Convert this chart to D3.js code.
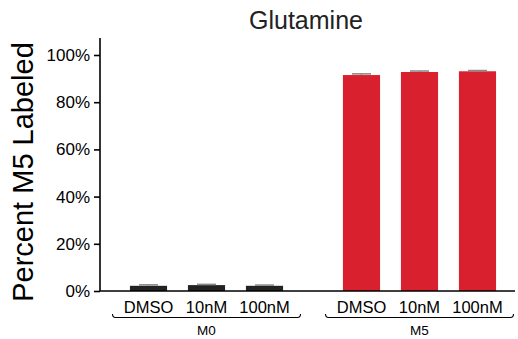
<!DOCTYPE html>
<html>
<head>
<meta charset="utf-8">
<script src="https://cdn.jsdelivr.net/npm/d3@7"></script>
<style>
  body { margin: 0; background: #fff; }
  svg { display: block; font-family: "Liberation Sans", Arial, sans-serif; }
</style>
</head>
<body>
<svg id="chart" width="518" height="339"></svg>
<script>
// percent of glutamine pool that is M5 labeled, by isotopologue group and treatment
let groups = ["M0", "M5"];
let treatments = ["DMSO", "10nM", "100nM"];
let m0Values = [2.2, 2.5, 2.2];
let m5Values = [91.5, 92.8, 93.1];
let m0Errors = [0.4, 0.3, 0.3];
let m5Errors = [0.5, 0.4, 0.3];
let yTicks = [0, 20, 40, 60, 80, 100];

let colours = {M0: "#222222", M5: "#d9202e"};

let rows = [];
groups.forEach(function(g) {
  let vals = g === "M0" ? m0Values : m5Values;
  let errs = g === "M0" ? m0Errors : m5Errors;
  treatments.forEach(function(t, i) {
    rows.push({group: g, treatment: t, value: vals[i], err: errs[i]});
  });
});

let svg = d3.select("#chart");

let y = d3.scaleLinear().domain([0, 107.2]).range([291, 38]);

let x0 = d3.scaleBand().domain(groups).range([119.5, 506.5])
  .paddingInner(0.183).paddingOuter(0);
let x1 = d3.scaleBand().domain(treatments).range([0, x0.bandwidth()])
  .paddingInner(0.36).paddingOuter(0.18);

// title
svg.append("text")
  .attr("x", 306).attr("y", 29)
  .attr("text-anchor", "middle")
  .style("font-size", "25px")
  .attr("fill", "#222")
  .text("Glutamine");

// y axis label
svg.append("text")
  .attr("transform", "translate(33,172) rotate(-90)")
  .attr("text-anchor", "middle")
  .style("font-size", "29px")
  .text("Percent M5 Labeled");

// y axis
let yAxis = svg.append("g")
  .attr("transform", "translate(100,0)")
  .call(d3.axisLeft(y).tickValues(yTicks).tickSize(6).tickPadding(4)
    .tickFormat(function(d) { return d + "%"; }));
yAxis.select(".domain").attr("d", "M0," + y.range()[1] + "V" + y(0))
  .attr("stroke-width", 1.6);
yAxis.selectAll(".tick line").attr("stroke-width", 1.6);
yAxis.selectAll("text").style("font-size", "17px").attr("fill", "#000");

// bars
let bars = svg.append("g").selectAll("g.bar")
  .data(rows)
  .enter().append("g")
    .attr("class", "bar");

bars.append("rect")
  .attr("x", function(d) { return x0(d.group) + x1(d.treatment); })
  .attr("y", function(d) { return y(d.value); })
  .attr("width", x1.bandwidth())
  .attr("height", function(d) { return y(0) - y(d.value); })
  .attr("fill", function(d) { return colours[d.group]; });

// error bars (only the upper half shows above the bar)
bars.append("line")
  .attr("x1", function(d) { return x0(d.group) + x1(d.treatment) + x1.bandwidth() / 2; })
  .attr("x2", function(d) { return x0(d.group) + x1(d.treatment) + x1.bandwidth() / 2; })
  .attr("y1", function(d) { return y(d.value); })
  .attr("y2", function(d) { return y(d.value + d.err); })
  .attr("stroke", "#8a8a8a").attr("stroke-width", 1.2);

bars.append("line")
  .attr("x1", function(d) { return x0(d.group) + x1(d.treatment) + x1.bandwidth() / 2 - 9.5; })
  .attr("x2", function(d) { return x0(d.group) + x1(d.treatment) + x1.bandwidth() / 2 + 9.5; })
  .attr("y1", function(d) { return y(d.value + d.err); })
  .attr("y2", function(d) { return y(d.value + d.err); })
  .attr("stroke", "#8a8a8a").attr("stroke-width", 1.6);

// x baseline
svg.append("line")
  .attr("x1", 100).attr("x2", 515)
  .attr("y1", y(0)).attr("y2", y(0))
  .attr("stroke", "#000").attr("stroke-width", 1.6);

// treatment labels
svg.append("g").selectAll("text")
  .data(rows)
  .enter().append("text")
    .attr("x", function(d) { return x0(d.group) + x1(d.treatment) + x1.bandwidth() / 2; })
    .attr("y", 313)
    .attr("text-anchor", "middle")
    .style("font-size", "16.5px")
    .text(function(d) { return d.treatment; });

// group brackets and labels
let brackets = svg.append("g").selectAll("g")
  .data(groups)
  .enter().append("g");

brackets.append("path")
  .attr("d", function(g) {
    let a = x0(g) - 7, b = x0(g) + x0.bandwidth() + 7;
    return "M" + a + ",314Q" + a + ",317.5 " + (a + 3) + ",317.5H" + (b - 3) + "Q" + b + ",317.5 " + b + ",314";
  })
  .attr("fill", "none").attr("stroke", "#000").attr("stroke-width", 1.1);

brackets.append("text")
  .attr("x", function(g) { return x0(g) + x0.bandwidth() / 2; })
  .attr("y", 335)
  .attr("text-anchor", "middle")
  .style("font-size", "13.5px")
  .text(function(g) { return g; });
</script>
</body>
</html>
